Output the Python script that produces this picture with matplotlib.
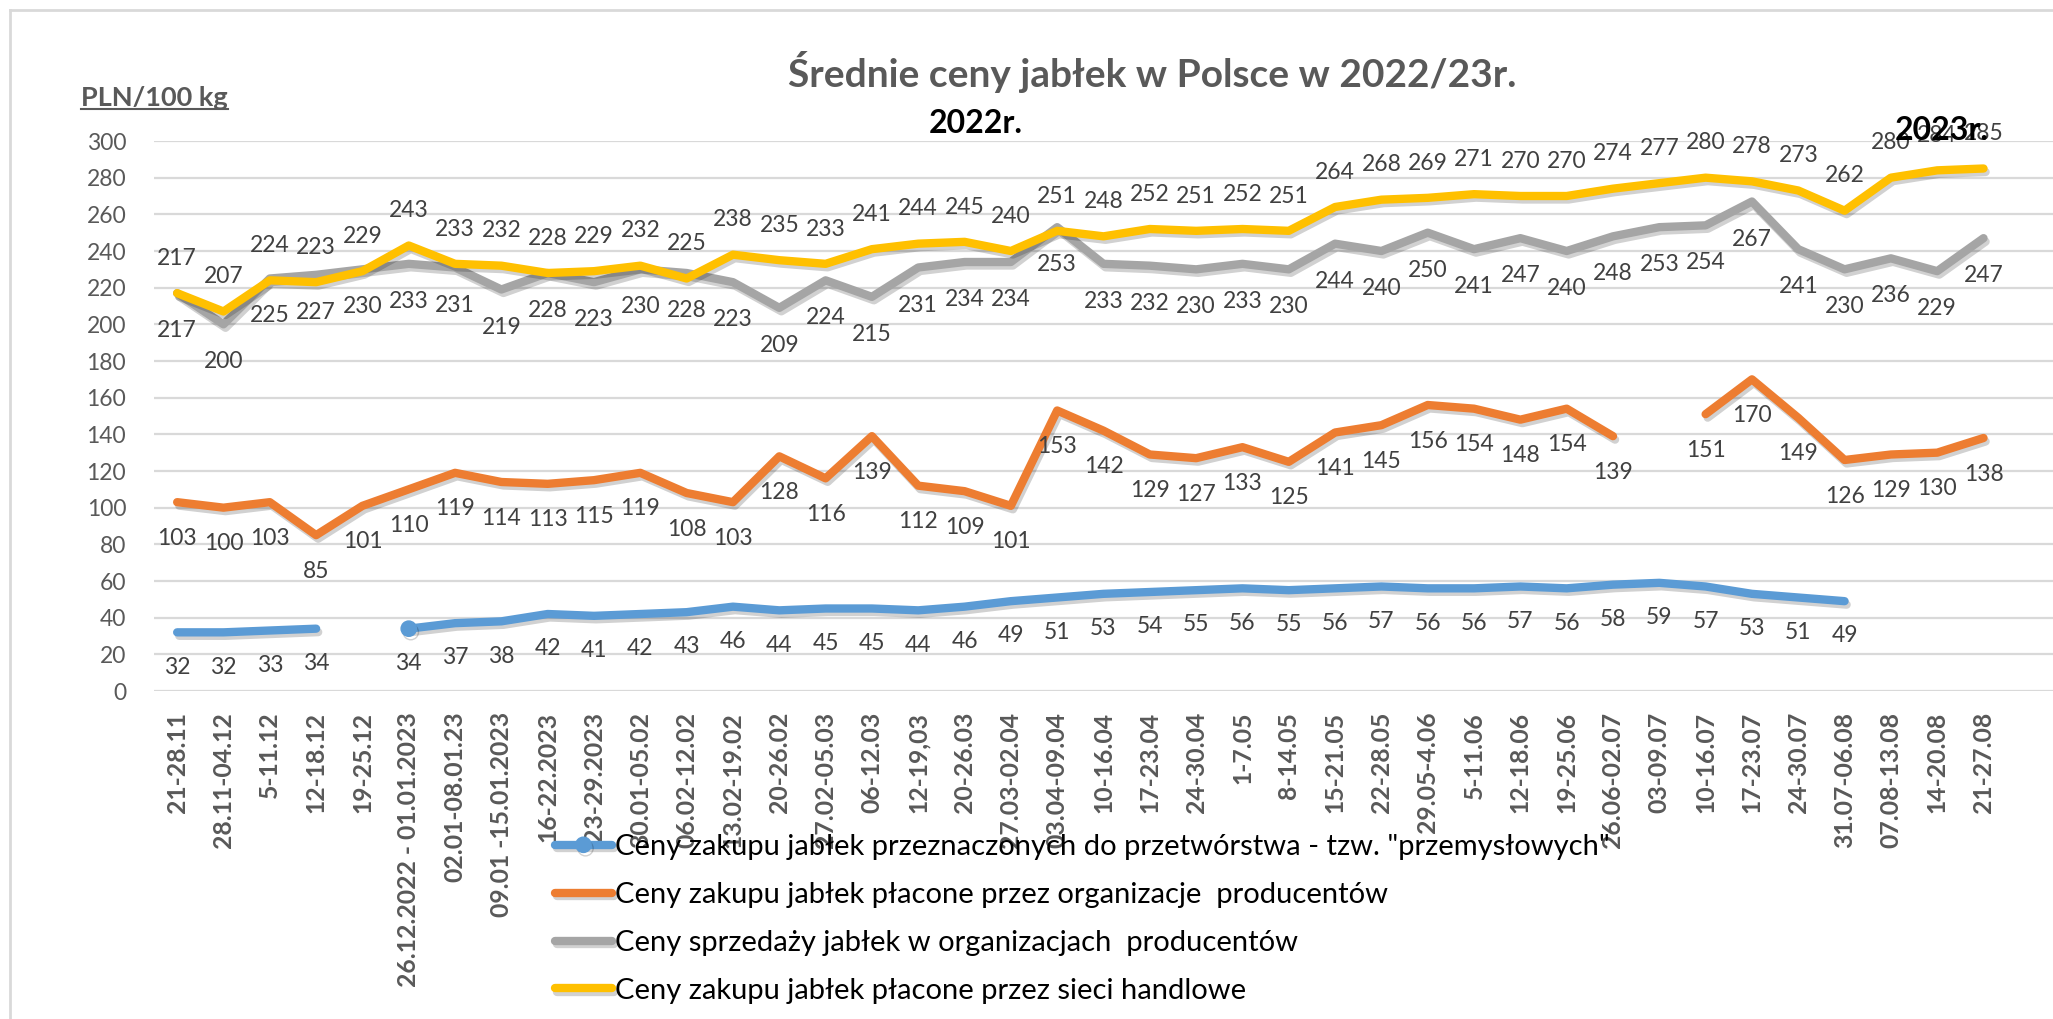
import numpy as np
import matplotlib.pyplot as plt
import matplotlib.patheffects as pe
from matplotlib.lines import Line2D

plt.rcParams['font.family'] = ['Lato', 'DejaVu Sans']

# tygodnie notowań
tygodnie = ['21-28.11', '28.11-04.12', '5-11.12', '12-18.12', '19-25.12',
            '26.12.2022 - 01.01.2023', '02.01-08.01.23', '09.01 -15.01.2023',
            '16-22.2023', '23-29.2023', '30.01-05.02', '06.02-12.02',
            '13.02-19.02', '20-26.02', '27.02-05.03', '06-12.03', '12-19,03',
            '20-26.03', '27.03-02.04', '03.04-09.04', '10-16.04', '17-23.04',
            '24-30.04', '1-7.05', '8-14.05', '15-21.05', '22-28.05',
            '29.05-4.06', '5-11.06', '12-18.06', '19-25.06', '26.06-02.07',
            '03-09.07', '10-16.07', '17-23.07', '24-30.07', '31.07-06.08',
            '07.08-13.08', '14-20.08', '21-27.08']

nan = np.nan
# ceny w PLN/100 kg
przemyslowe = [32, 32, 33, 34, nan, 34, 37, 38, 42, 41, 42, 43, 46, 44, 45, 45,
               44, 46, 49, 51, 53, 54, 55, 56, 55, 56, 57, 56, 56, 57, 56, 58,
               59, 57, 53, 51, 49, nan, nan, nan]
zakup_org = [103, 100, 103, 85, 101, 110, 119, 114, 113, 115, 119, 108, 103,
             128, 116, 139, 112, 109, 101, 153, 142, 129, 127, 133, 125, 141,
             145, 156, 154, 148, 154, 139, nan, 151, 170, 149, 126, 129, 130, 138]
sprzedaz_org = [217, 200, 225, 227, 230, 233, 231, 219, 228, 223, 230, 228, 223,
                209, 224, 215, 231, 234, 234, 253, 233, 232, 230, 233, 230, 244,
                240, 250, 241, 247, 240, 248, 253, 254, 267, 241, 230, 236, 229, 247]
sieci = [217, 207, 224, 223, 229, 243, 233, 232, 228, 229, 232, 225, 238, 235,
         233, 241, 244, 245, 240, 251, 248, 252, 251, 252, 251, 264, 268, 269,
         271, 270, 270, 274, 277, 280, 278, 273, 262, 280, 284, 285]

nazwy = ['Ceny zakupu jabłek przeznaczonych do przetwórstwa - tzw. "przemysłowych"',
         'Ceny zakupu jabłek płacone przez organizacje  producentów',
         'Ceny sprzedaży jabłek w organizacjach  producentów',
         'Ceny zakupu jabłek płacone przez sieci handlowe']
kolory = ['#5B9BD5', '#ED7D31', '#A5A5A5', '#FFC000']
przesuniecia = [-25, -26, -27, 25]  # etykiety pod / nad linią (pt)

W, H = 2053, 1019
fig = plt.figure(figsize=(W / 100, H / 100), dpi=100)
ax = fig.add_axes([154 / W, 1 - 691 / H, 1 - 154 / W, 550 / H])

x = np.arange(len(tygodnie))
cien = [pe.SimpleLineShadow(offset=(1.5, -2.5), shadow_color='black', alpha=0.18),
        pe.Normal()]

for i, (dane, kolor, nazwa, dy) in enumerate(zip(
        [przemyslowe, zakup_org, sprzedaz_org, sieci], kolory, nazwy, przesuniecia)):
    y = np.array(dane, dtype=float)
    kw = {}
    if i == 0:
        kw = dict(marker='o', markevery=[5], markersize=11)
    ax.plot(x, y, color=kolor, lw=6, solid_capstyle='round',
            solid_joinstyle='round', path_effects=cien, label=nazwa,
            zorder=2 + i * 0.1, **kw)
    for xi, yi in zip(x, y):
        if np.isnan(yi):
            continue
        ax.annotate(f'{yi:.0f}', (xi, yi), xytext=(0, dy),
                    textcoords='offset points', ha='center', va='center',
                    fontsize=16.5, color='#404040', annotation_clip=False,
                    zorder=5)

ax.set_xlim(-0.5, len(tygodnie) + 0.5)
ax.set_ylim(0, 300)
ax.set_yticks(np.arange(0, 301, 20))
ax.set_xticks(x)
ax.set_xticklabels(tygodnie, rotation=90, fontsize=17.8, fontweight='bold',
                   color='#595959')
ax.tick_params(axis='x', length=0, pad=15)
ax.tick_params(axis='y', length=0, pad=20, labelsize=16.5, labelcolor='#595959')
ax.grid(axis='y', color='#D9D9D9', lw=1.6)
ax.set_axisbelow(True)
for s in ax.spines.values():
    s.set_visible(False)

ax.text(17.25, 309.8, '2022r.', ha='center', va='center', fontsize=23,
        fontweight='bold', color='black', zorder=6)
ax.text(38.1, 305.5, '2023r.', ha='center', va='center', fontsize=23,
        fontweight='bold', color='black', zorder=6)

fig.text(1152 / W, 1 - 72 / H, 'Średnie ceny jabłek w Polsce w 2022/23r.',
         ha='center', va='center', fontsize=28, fontweight='bold', color='#595959')

jedn = fig.text(81 / W, 1 - 98 / H, 'PLN/100 kg', ha='left', va='center',
                fontsize=19.5, fontweight='bold', color='#595959')
r = fig.canvas.get_renderer()
bb = jedn.get_window_extent(r).transformed(fig.transFigure.inverted())
fig.add_artist(Line2D([bb.x0, bb.x1], [bb.y0 + 0.001, bb.y0 + 0.001],
                      color='#595959', lw=1.5))

leg = ax.legend(loc='upper left', bbox_to_anchor=(555 / W, 1 - 834 / H),
                bbox_transform=fig.transFigure, frameon=False, fontsize=21,
                handlelength=1.95, handletextpad=0.12, labelspacing=0.75,
                borderpad=0, borderaxespad=0)
leg.set_zorder(10)

# ramka wykresu
fig.add_artist(Line2D([10 / W, 10 / W], [0, 1 - 10 / H], color='#D9D9D9', lw=2))
fig.add_artist(Line2D([10 / W, 1], [1 - 10 / H, 1 - 10 / H], color='#D9D9D9', lw=2))

fig.savefig('out.png', dpi=100)
